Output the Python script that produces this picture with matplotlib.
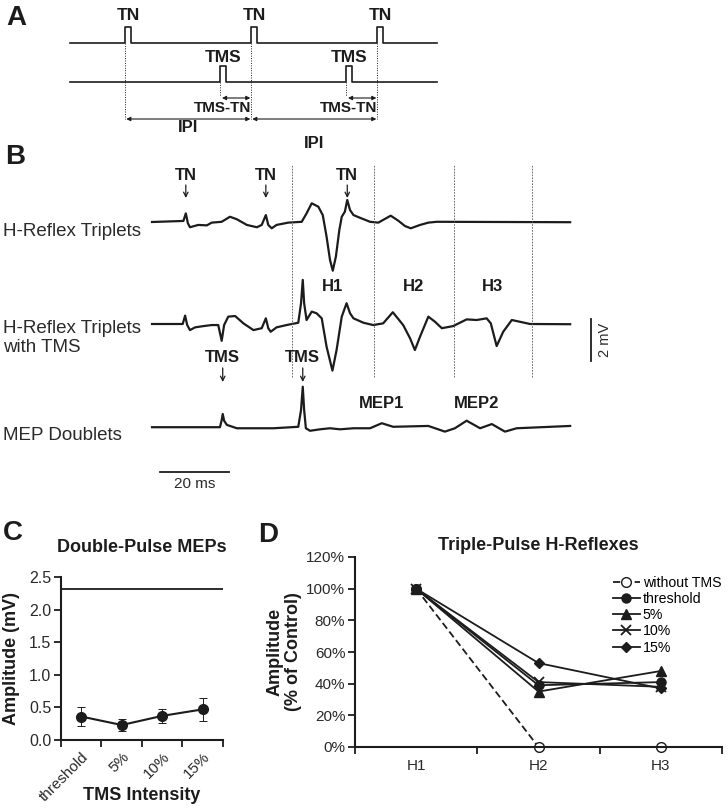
import numpy as np
import matplotlib
matplotlib.use('Agg')
import matplotlib.pyplot as plt
from matplotlib.ticker import FuncFormatter

plt.rcParams['font.family'] = ['Liberation Sans', 'DejaVu Sans']
INK = '#1c1c1c'
TXT = '#2a2a2a'

# ---------------- data ----------------
# A: stimulation schema (arbitrary time units, IPI = 100)
tn_times = [0, 100, 200]
tms_times = [75, 175]
pulse_width = 5
schema_span = [-44, 248]

# B: example EMG traces (ms, mV)
hr_t = [0, 9.1, 9.8, 10.4, 11.0, 13.4, 15.9, 17.3, 20.2, 22.6, 24.6, 27.5, 30.4, 31.8, 33.0,
        33.7, 34.7, 36.1, 39.5, 43.4, 44.8, 46.3, 48.2, 49.5, 50.6, 51.6, 52.4, 53.3, 54.3, 55.0,
        55.9, 56.6, 57.4, 58.4, 60.3, 63.2, 65.6, 67.0, 69.2, 71.4, 73.3, 75.0, 77.7, 80.1, 82.5, 121.2]
hr_v = [0, 0.05, 0.41, -0.06, -0.25, -0.14, -0.16, -0.03, 0.01, 0.25, 0.13, -0.14, -0.25, -0.14, 0.33,
        -0.14, -0.30, -0.14, -0.03, 0.01, 0.41, 0.89, 0.73, 0.33, -0.70, -1.81, -2.32, -1.65, -0.38, 0.25,
        0.49, 1.05, 0.57, 0.33, 0.20, 0.01, -0.03, 0.10, 0.30, 0.06, -0.19, -0.30, -0.14, -0.03, 0.01, -0.01]

hrtms_t = [0, 8.9, 9.6, 10.2, 11.0, 12.5, 14.9, 17.3, 19.2, 20.2, 20.9, 22.1, 24.1, 26.5, 29.4,
           31.8, 33.0, 33.7, 34.4, 36.1, 39.0, 42.4, 43.2, 43.7, 44.1, 44.8, 46.3, 47.7, 49.2, 50.6,
           52.3, 53.5, 55.0, 56.4, 57.4, 58.4, 61.3, 64.1, 67.0, 69.8, 72.8, 74.8, 76.2, 77.7, 80.1,
           82.0, 84.0, 87.3, 91.2, 94.1, 97.0, 98.2, 99.9, 101.8, 104.3, 109.6, 121.2]
hrtms_v = [0, 0, 0.40, -0.05, -0.29, -0.16, -0.10, -0.05, -0.05, -0.80, -0.05, 0.35, 0.38, 0.03, -0.29,
           -0.20, 0.27, -0.20, -0.37, -0.16, -0.05, 0.06, 0.99, 2.10, 0.99, 0.19, 0.59, 0.51, 0.27, -1.08,
           -2.22, -1.24, 0.35, 0.99, 0.51, 0.27, 0.06, -0.05, 0.03, 0.56, -0.05, -0.68, -1.24, -0.60, 0.35,
           0.11, -0.20, -0.10, 0.22, 0.19, 0.27, 0.03, -1.05, -0.37, 0.19, 0, -0.01]

mep_t = [0, 19.7, 20.2, 20.5, 20.9, 21.7, 24.6, 35.2, 42.4, 43.2, 43.7, 44.1, 44.6, 45.8, 48.7,
         51.6, 54.5, 58.4, 63.2, 66.6, 69.9, 80.1, 84.9, 87.8, 91.2, 95.1, 98.5, 102.3, 105.7, 121.2]
mep_v = [-0.01, -0.01, 0.33, 0.62, 0.30, 0.10, -0.06, -0.06, 0.01, 0.81, 1.92, 0.81, -0.06, -0.18, -0.11,
         -0.06, -0.11, -0.06, -0.06, 0.18, 0.01, 0.05, -0.22, -0.06, 0.30, -0.06, 0.14, -0.22, -0.06, 0.05]

trace_names = ['H-Reflex Triplets', 'H-Reflex Triplets\nwith TMS', 'MEP Doublets']
tn_marks_ms = [9.8, 33.0, 56.6]
tms_marks_ms = [20.5, 43.7]
window_edges_ms = [40.6, 64.3, 87.5, 110.1]
window_names = ['H1', 'H2', 'H3']
mep_names = ['MEP1', 'MEP2']
mep_label_ms = [66.4, 94.2]
scale_ms = 20
scale_mv = 2

# C: double-pulse MEP amplitude (mV)
intensities = ['threshold', '5%', '10%', '15%']
mep_amp = [0.36, 0.23, 0.37, 0.47]
mep_err = [0.15, 0.09, 0.11, 0.18]
mep_control = 2.32

# D: triple-pulse H-reflexes (% of control)
reflexes = ['H1', 'H2', 'H3']
series_names = ['without TMS', 'threshold', '5%', '10%', '15%']
h_without = [100, 0, 0]
h_threshold = [100, 39, 41]
h_5 = [100, 35, 48]
h_10 = [100, 41, 38]
h_15 = [100, 53, 37]

# ---------------- figure ----------------
W, H = 728, 808
fig = plt.figure(figsize=(W / 100, H / 100), dpi=100)


def ftxt(x, y, s, **kw):
    fig.text(x / W, 1 - y / H, s, **kw)


for letter, (x, y) in zip('ABCD', [(16, 18), (15, 157), (13, 533), (268, 535)]):
    ftxt(x, y, letter, fontsize=20, fontweight='bold', color=INK, ha='center', va='center')

# ---- A ----
axA = fig.add_axes([0, 0, 1, 1])
axA.axis('off')
axA.patch.set_visible(False)
a_px, a_x0 = 1.26, 125
axA.set_xlim(-a_x0 / a_px, (W - a_x0) / a_px)
axA.set_ylim(H, 0)  # y in pixel rows


def pulse_train(times):
    xs, ys = [schema_span[0]], [0]
    for t in times:
        xs += [t, t, t + pulse_width, t + pulse_width]
        ys += [0, 1, 1, 0]
    xs.append(schema_span[1])
    ys.append(0)
    return np.array(xs), np.array(ys)


row_tn, row_tms, pulse_h = 43, 82, 16
for times, row in ((tn_times, row_tn), (tms_times, row_tms)):
    xs, ys = pulse_train(times)
    axA.plot(xs, row - pulse_h * ys, color=INK, lw=1.2)

for t in tn_times:
    axA.plot([t, t], [row_tn, 119], color=INK, lw=0.7, ls=(0, (1, 1.5)))
    axA.text(t + pulse_width / 2, 15, 'TN', fontsize=12.5, fontweight='bold',
             ha='center', va='center', color=INK)
for t in tms_times:
    axA.plot([t, t], [row_tms, 96], color=INK, lw=0.7, ls=(0, (1, 1.5)))
    axA.text(t + pulse_width / 2, 58, 'TMS', fontsize=12.5, fontweight='bold',
             ha='center', va='center', color=INK)

arrow_kw = dict(arrowstyle='<|-|>', color=INK, lw=0.8, mutation_scale=6, shrinkA=0, shrinkB=0)
for t in tms_times:
    tn_next = min(x for x in tn_times if x > t)
    axA.annotate('', xy=(tn_next - 0.5, 98), xytext=(t + 2, 98), arrowprops=arrow_kw)
    axA.text(tn_next + 0.5, 108, 'TMS-TN', fontsize=11, fontweight='bold',
             ha='right', va='center', color=INK)

for (t0, t1), ly in zip(zip(tn_times[:-1], tn_times[1:]), [127, 143]):
    axA.annotate('', xy=(t1 - 0.5, 119), xytext=(t0 + 1, 119), arrowprops=arrow_kw)
    axA.text((t0 + t1) / 2, ly, 'IPI', fontsize=12, fontweight='bold',
             ha='center', va='center', color=INK)

# ---- B ----
axB = fig.add_axes([0, 0, 1, 1])
axB.axis('off')
axB.patch.set_visible(False)
ms_px, mv_px, b_x0, b_y0 = 3.45, 21, 152, 222
axB.set_xlim(-b_x0 / ms_px, (W - b_x0) / ms_px)
axB.set_ylim((b_y0 - H) / mv_px, b_y0 / mv_px)


def by(px):
    return (b_y0 - px) / mv_px


def bx(px):
    return (px - b_x0) / ms_px


traces = [(hr_t, hr_v), (hrtms_t, hrtms_v), (mep_t, mep_v)]
trace_rows = [222, 324, 427]
label_rows = [232, 338, 435]
for (t, v), row, name, ly in zip(traces, trace_rows, trace_names, label_rows):
    axB.plot(t, np.array(v) + by(row), color=INK, lw=1.6, solid_joinstyle='round')
    ftxt(3, ly, name, fontsize=13.5, color=TXT, ha='left', va='center', linespacing=1.2)

axB.vlines(window_edges_ms, by(377), by(165), colors='#555555', lw=0.6, linestyles=(0, (2, 1.5)))
for a, b, name in zip(window_edges_ms[:-1], window_edges_ms[1:], window_names):
    axB.text((a + b) / 2, by(287), name, fontsize=12, fontweight='bold', ha='center', va='center', color=INK)
for t, name in zip(mep_label_ms, mep_names):
    axB.text(t, by(404), name, fontsize=12, fontweight='bold', ha='center', va='center', color=INK)

mark_kw = dict(arrowstyle='->', color=INK, lw=0.9, mutation_scale=8, shrinkA=0, shrinkB=0)
for t in tn_marks_ms:
    axB.text(t, by(176), 'TN', fontsize=12, fontweight='bold', ha='center', va='center', color=INK)
    axB.annotate('', xy=(t, by(198)), xytext=(t, by(185)), arrowprops=mark_kw)
for t in tms_marks_ms:
    axB.text(t, by(358), 'TMS', fontsize=12, fontweight='bold', ha='center', va='center', color=INK)
    axB.annotate('', xy=(t, by(382)), xytext=(t, by(368)), arrowprops=mark_kw)

axB.plot([bx(160), bx(160) + scale_ms], [by(472), by(472)], color=INK, lw=1.3)
axB.text(bx(160) + scale_ms / 2, by(484), '20 ms', fontsize=11, ha='center', va='center', color=TXT)
axB.plot([bx(591), bx(591)], [by(361), by(361) + scale_mv], color=INK, lw=1.3)
axB.text(bx(605), by(361) + scale_mv / 2, '2 mV', fontsize=10.5, rotation=90,
         ha='center', va='center', color=TXT)

# ---- C ----
axC = fig.add_axes([61 / W, 1 - 740 / H, 162 / W, 163 / H])
xc = np.arange(len(intensities)) + 0.5
axC.axhline(mep_control, color=INK, lw=1.3)
axC.errorbar(xc, mep_amp, yerr=mep_err, fmt='-o', color=INK, ms=7, lw=1.5,
             elinewidth=0.7, capsize=3, capthick=0.7, zorder=3)
axC.set_xlim(0, len(intensities))
axC.set_ylim(0, 2.5)
axC.set_yticks(np.arange(0, 2.51, 0.5))
axC.yaxis.set_major_formatter(FuncFormatter(lambda v, p: f'{v:.1f}'))
axC.set_xticks(xc)
axC.set_xticklabels(intensities, rotation=45, ha='right', rotation_mode='anchor')
axC.set_xticks(np.arange(len(intensities) + 1), minor=True)
axC.tick_params(axis='x', which='major', length=0, pad=7, labelsize=11, labelcolor=TXT)
axC.tick_params(axis='x', which='minor', length=5, width=1.3, color=INK)
axC.tick_params(axis='y', length=5, width=1.3, pad=2, color=INK, labelsize=11.5, labelcolor=TXT)
axC.set_title('Double-Pulse MEPs', fontsize=13, fontweight='bold', color=INK, pad=18)
axC.set_ylabel('Amplitude (mV)', fontsize=13, fontweight='bold', color=INK)
axC.yaxis.set_label_coords(-0.255, 0.5)
axC.set_xlabel('TMS Intensity', fontsize=13, fontweight='bold', color=INK)
axC.xaxis.set_label_coords(0.5, -0.29)

# ---- D ----
axD = fig.add_axes([355 / W, 1 - 747 / H, 367 / W, 190 / H])
xd = np.arange(len(reflexes)) + 0.5
styles = [
    (h_without, dict(ls=(0, (4, 2)), marker='o', mfc='white', ms=7)),
    (h_threshold, dict(ls='-', marker='o', ms=6.5)),
    (h_5, dict(ls='-', marker='^', ms=6.5)),
    (h_10, dict(ls='-', marker='x', ms=7, mew=1.3)),
    (h_15, dict(ls='-', marker='D', ms=5)),
]
for (vals, kw), name in zip(styles, series_names):
    axD.plot(xd, vals, color=INK, mec=INK, lw=1.3, label=name, clip_on=False, **kw)
axD.set_xlim(0, len(reflexes))
axD.set_ylim(0, 120)
axD.set_yticks(np.arange(0, 121, 20))
axD.yaxis.set_major_formatter(FuncFormatter(lambda v, p: f'{v:.0f}%'))
axD.set_xticks(xd)
axD.set_xticklabels(reflexes)
axD.set_xticks(np.arange(len(reflexes) + 1), minor=True)
axD.tick_params(axis='x', which='major', length=0, pad=9, labelsize=11, labelcolor=TXT)
axD.tick_params(axis='x', which='minor', length=5, width=1.3, color=INK)
axD.tick_params(axis='y', length=5, width=1.3, pad=2, color=INK, labelsize=11, labelcolor=TXT)
axD.set_title('Triple-Pulse H-Reflexes', fontsize=13, fontweight='bold', color=INK, pad=5)
axD.set_ylabel('Amplitude\n(% of Control)', fontsize=13, fontweight='bold', color=INK, linespacing=1.1)
axD.yaxis.set_label_coords(-0.145, 0.5)
axD.legend(loc='upper left', bbox_to_anchor=(0.703, 0.9), frameon=False, fontsize=10.2,
           handlelength=1.9, handletextpad=0.2, labelspacing=0.15, borderpad=0, borderaxespad=0)

for ax in (axC, axD):
    for side in ('top', 'right'):
        ax.spines[side].set_visible(False)
    for side in ('left', 'bottom'):
        ax.spines[side].set_linewidth(1.5)
        ax.spines[side].set_color(INK)

fig.savefig('out.png', dpi=100)
